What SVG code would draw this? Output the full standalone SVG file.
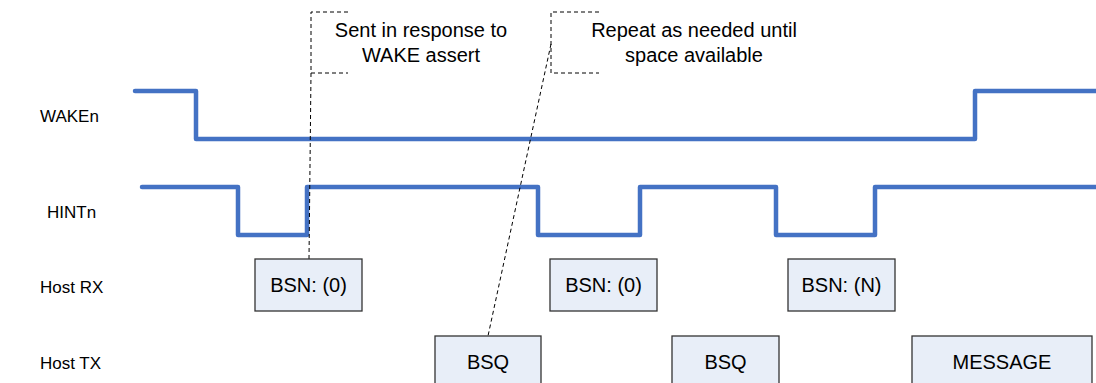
<svg xmlns="http://www.w3.org/2000/svg" width="1096" height="383" viewBox="0 0 1096 383">
<style>
text{font-family:"Liberation Sans",Arial,sans-serif;fill:#000}
.lbl{font-size:17px}
.call{font-size:20px;text-anchor:middle}
.bt{font-size:20px;text-anchor:middle;dominant-baseline:central}
.box{fill:#E8EEF8;stroke:#333;stroke-width:1.3}
.sig{fill:none;stroke:#4472C4;stroke-width:4.5;stroke-linejoin:round;stroke-linecap:round}
.dash{fill:none;stroke:#000;stroke-width:1;stroke-dasharray:4 3}
</style>
<rect width="1096" height="383" fill="#fff"/>
<g id="labels">
<text class="lbl" x="40" y="122">WAKEn</text>
<text class="lbl" x="47" y="218">HINTn</text>
<text class="lbl" x="40" y="293">Host RX</text>
<text class="lbl" x="40" y="369">Host TX</text>
</g>
<g id="signals">
<path id="wake" class="sig" d="M135,91 H196 V139 H975 V91 H1096"/>
<path id="hint" class="sig" d="M142,187 H238 V235 H307 V187 H538 V235 H640 V187 H776 V235 H875 V187 H1096"/>
</g>
<g id="connectors">
<path class="dash" d="M348,12 H311 V73 H348"/>
<path class="dash" d="M311,73 L309,259"/>
<path class="dash" d="M599,12 H551 V73 H599"/>
<path class="dash" d="M551,44 L488,336"/>
</g>
<g id="callout1">
<text class="call" x="421" y="37">Sent in response to</text>
<text class="call" x="421" y="62">WAKE assert</text>
</g>
<g id="callout2">
<text class="call" x="694" y="37">Repeat as needed until</text>
<text class="call" x="694" y="62">space available</text>
</g>
<g id="rx1"><rect class="box" x="255" y="259" width="107" height="52"/><text class="bt" x="308.5" y="285">BSN: (0)</text></g>
<g id="rx2"><rect class="box" x="550" y="259" width="107" height="52"/><text class="bt" x="603.5" y="285">BSN: (0)</text></g>
<g id="rx3"><rect class="box" x="788" y="259" width="107" height="52"/><text class="bt" x="841.5" y="285">BSN: (N)</text></g>
<g id="tx1"><rect class="box" x="435" y="336" width="106" height="52"/><text class="bt" x="488" y="362">BSQ</text></g>
<g id="tx2"><rect class="box" x="672" y="336" width="107" height="52"/><text class="bt" x="725.5" y="362">BSQ</text></g>
<g id="tx3"><rect class="box" x="912" y="336" width="180" height="52"/><text class="bt" x="1002" y="362">MESSAGE</text></g>
</svg>
